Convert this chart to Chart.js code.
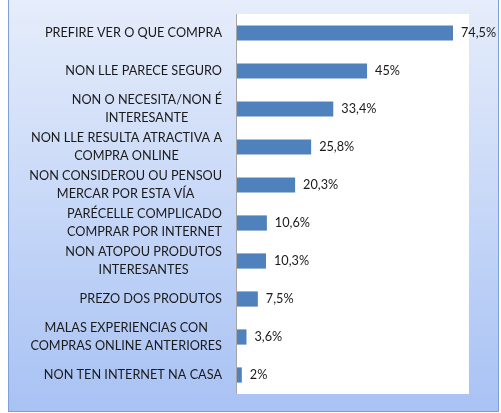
<!DOCTYPE html>
<html>
<head>
<meta charset="utf-8">
<script src="https://cdn.jsdelivr.net/npm/chart.js@4"></script>
<style>
  html, body { margin: 0; padding: 0; background: #fff; }
  #wrap { width: 501px; height: 413px; }
</style>
</head>
<body>
<div id="wrap"><canvas id="chart" width="501" height="413"></canvas></div>
<script>
const categories = [
  ["PREFIRE VER O QUE COMPRA"],
  ["NON LLE PARECE SEGURO"],
  ["NON O NECESITA/NON É", "INTERESANTE"],
  ["NON LLE RESULTA ATRACTIVA A", "COMPRA ONLINE"],
  ["NON CONSIDEROU OU PENSOU", "MERCAR POR ESTA VÍA"],
  ["PARÉCELLE COMPLICADO", "COMPRAR POR INTERNET"],
  ["NON ATOPOU PRODUTOS", "INTERESANTES"],
  ["PREZO DOS PRODUTOS"],
  ["MALAS EXPERIENCIAS CON", "COMPRAS ONLINE ANTERIORES"],
  ["NON TEN INTERNET NA CASA"]
];
const values = [74.5, 45, 33.4, 25.8, 20.3, 10.6, 10.3, 7.5, 3.6, 2];
const valueLabels = ["74,5%", "45%", "33,4%", "25,8%", "20,3%", "10,6%", "10,3%", "7,5%", "3,6%", "2%"];

const FONT = "12.7px Lato, 'Open Sans', sans-serif";

// fondo azul, eixo e etiquetas
const decor = {
  id: "decor",
  beforeDraw(chart) {
    const ctx = chart.ctx;
    const a = chart.chartArea;
    ctx.save();
    const g = ctx.createLinearGradient(0, 0, 0, 412);
    g.addColorStop(0, "#e6edfb");
    g.addColorStop(1, "#a8c2f4");
    ctx.fillStyle = g;
    ctx.fillRect(8, -1, 491, 413);
    ctx.strokeStyle = "#7f9fd8";
    ctx.lineWidth = 1;
    ctx.strokeRect(8.5, -1, 490, 412.5);
    ctx.fillStyle = "#fff";
    ctx.fillRect(a.left, a.top, a.right - a.left, a.bottom - a.top);
    ctx.restore();
  },
  afterDatasetsDraw(chart) {
    const ctx = chart.ctx;
    const a = chart.chartArea;
    const y = chart.scales.y;
    const x = chart.scales.x;
    ctx.save();
    ctx.strokeStyle = "#a6a6a6";
    ctx.lineWidth = 1;
    ctx.beginPath();
    ctx.moveTo(a.left + 0.5, a.top);
    ctx.lineTo(a.left + 0.5, a.bottom);
    ctx.stroke();

    ctx.font = FONT;
    ctx.fillStyle = "#1a1a1a";
    ctx.textBaseline = "middle";
    categories.forEach((lines, i) => {
      const cy = y.getPixelForValue(i);
      const w = Math.max(...lines.map(l => ctx.measureText(l).width));
      const cx = 222 - w / 2;
      ctx.textAlign = "center";
      lines.forEach((l, j) => {
        ctx.fillText(l, cx, cy + (j - (lines.length - 1) / 2) * 18);
      });
      ctx.textAlign = "left";
      ctx.fillText(valueLabels[i], x.getPixelForValue(values[i]) + 8, cy);
    });
    ctx.restore();
  }
};

new Chart(document.getElementById("chart"), {
  type: "bar",
  data: {
    labels: categories,
    datasets: [{
      data: values,
      backgroundColor: "#4f81bd",
      borderWidth: 0,
      categoryPercentage: 1,
      barPercentage: 0.4
    }]
  },
  options: {
    indexAxis: "y",
    responsive: false,
    animation: false,
    layout: { padding: { left: 236, right: 32, top: 14, bottom: 19 } },
    plugins: { legend: { display: false }, tooltip: { enabled: false } },
    scales: {
      x: { display: false, min: 0, max: 80 },
      y: { display: false }
    }
  },
  plugins: [decor]
});
</script>
</body>
</html>
